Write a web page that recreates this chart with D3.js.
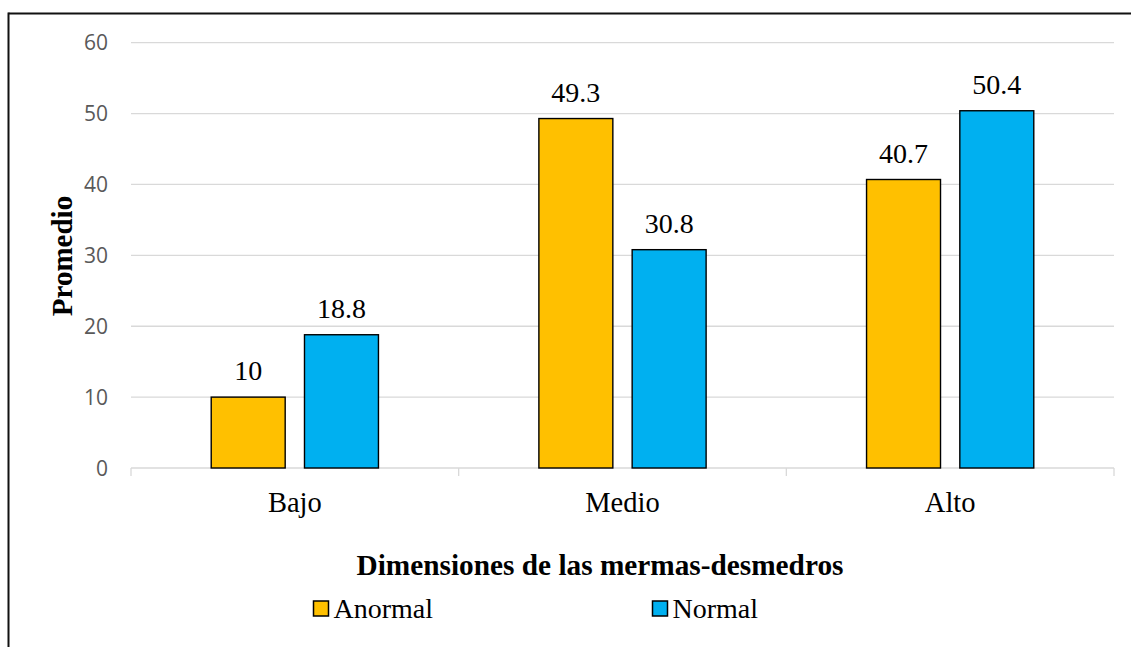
<!DOCTYPE html>
<html>
<head>
<meta charset="utf-8">
<script src="https://cdn.jsdelivr.net/npm/d3@7"></script>
<style>
  html, body { margin: 0; padding: 0; background: #fff; }
  svg { display: block; }
</style>
</head>
<body>
<svg id="chart" width="1131" height="647"></svg>
<script>
const categories = ["Bajo", "Medio", "Alto"];
const seriesNames = ["Anormal", "Normal"];
const anormalValues = [10, 49.3, 40.7];
const normalValues = [18.8, 30.8, 50.4];
const yTickValues = [0, 10, 20, 30, 40, 50, 60];
const seriesColors = ["#FFC000", "#00B0F0"];

const svg = d3.select("#chart");
const W = 1131, H = 647;
const plot = { left: 131, right: 1114, top: 42.7, bottom: 468 };
const serif = "'Liberation Serif', 'Times New Roman', serif";

// border (top and left lines)
svg.append("line").attr("x1", 8.5).attr("x2", W).attr("y1", 13.5).attr("y2", 13.5)
  .attr("stroke", "#111").attr("stroke-width", 2);
svg.append("line").attr("x1", 8.5).attr("x2", 8.5).attr("y1", 12.5).attr("y2", H)
  .attr("stroke", "#111").attr("stroke-width", 2);

const x0 = d3.scaleBand().domain(categories).range([plot.left, plot.right]).paddingInner(0).paddingOuter(0);
const x1 = d3.scaleBand().domain(seriesNames).range([0, x0.bandwidth()]).paddingInner(0.207).paddingOuter(0.86);
const y = d3.scaleLinear().domain([0, 60]).range([plot.bottom, plot.top]);

// gridlines
svg.append("g").selectAll("line").data(yTickValues.filter(d => d > 0)).join("line")
  .attr("x1", plot.left).attr("x2", plot.right)
  .attr("y1", d => y(d)).attr("y2", d => y(d))
  .attr("stroke", "#d9d9d9").attr("stroke-width", 1.3);

// y tick labels
svg.append("g").selectAll("text").data(yTickValues).join("text")
  .attr("x", 108).attr("y", d => y(d)).attr("dy", "0.36em")
  .attr("text-anchor", "end")
  .attr("font-family", "'Open Sans', 'Liberation Sans', sans-serif")
  .attr("font-size", 21).attr("fill", "#595959")
  .text(d => d);

// x axis line and ticks
svg.append("line").attr("x1", plot.left).attr("x2", plot.right)
  .attr("y1", y(0)).attr("y2", y(0)).attr("stroke", "#d9d9d9").attr("stroke-width", 1.3);
const boundaries = categories.map(c => x0(c)).concat([x0(categories[categories.length - 1]) + x0.bandwidth()]);
svg.append("g").selectAll("line").data(boundaries).join("line")
  .attr("x1", d => d).attr("x2", d => d)
  .attr("y1", y(0)).attr("y2", y(0) + 8)
  .attr("stroke", "#d9d9d9").attr("stroke-width", 1.3);

// bars
const rows = categories.map((c, i) => ({ cat: c, vals: [anormalValues[i], normalValues[i]] }));
const groups = svg.append("g").selectAll("g").data(rows).join("g")
  .attr("transform", d => `translate(${x0(d.cat)},0)`);
groups.selectAll("rect").data(d => d.vals.map((v, j) => ({ s: seriesNames[j], v, j }))).join("rect")
  .attr("x", d => x1(d.s)).attr("width", x1.bandwidth())
  .attr("y", d => y(d.v)).attr("height", d => y(0) - y(d.v))
  .attr("fill", d => seriesColors[d.j])
  .attr("stroke", "#000").attr("stroke-width", 1.4);
groups.selectAll("text").data(d => d.vals.map((v, j) => ({ s: seriesNames[j], v, j }))).join("text")
  .attr("x", d => x1(d.s) + x1.bandwidth() / 2).attr("y", d => y(d.v) - 17)
  .attr("text-anchor", "middle")
  .attr("font-family", serif)
  .attr("font-size", 28).attr("fill", "#000")
  .text(d => d.v);

// category labels
svg.append("g").selectAll("text").data(categories).join("text")
  .attr("x", d => x0(d) + x0.bandwidth() / 2).attr("y", 511.5)
  .attr("text-anchor", "middle")
  .attr("font-family", serif)
  .attr("font-size", 28.5).attr("fill", "#000")
  .text(d => d);

// axis titles
svg.append("text").attr("x", 600).attr("y", 575)
  .attr("text-anchor", "middle")
  .attr("font-family", serif)
  .attr("font-weight", "bold").attr("font-size", 29.3).attr("fill", "#000")
  .text("Dimensiones de las mermas-desmedros");
svg.append("text").attr("transform", "translate(71.5,256) rotate(-90)")
  .attr("text-anchor", "middle")
  .attr("font-family", serif)
  .attr("font-weight", "bold").attr("font-size", 29).attr("fill", "#000")
  .text("Promedio");

// legend
const legendX = [313.5, 652.5];
const legend = svg.append("g").selectAll("g").data(seriesNames).join("g")
  .attr("transform", (d, i) => `translate(${legendX[i]},0)`);
legend.append("rect").attr("x", 0).attr("y", 601).attr("width", 15).attr("height", 15)
  .attr("fill", (d, i) => seriesColors[i]).attr("stroke", "#000").attr("stroke-width", 1.5);
legend.append("text").attr("x", 20).attr("y", 618)
  .attr("font-family", serif)
  .attr("font-size", 28).attr("fill", "#000")
  .text(d => d);
</script>
</body>
</html>
